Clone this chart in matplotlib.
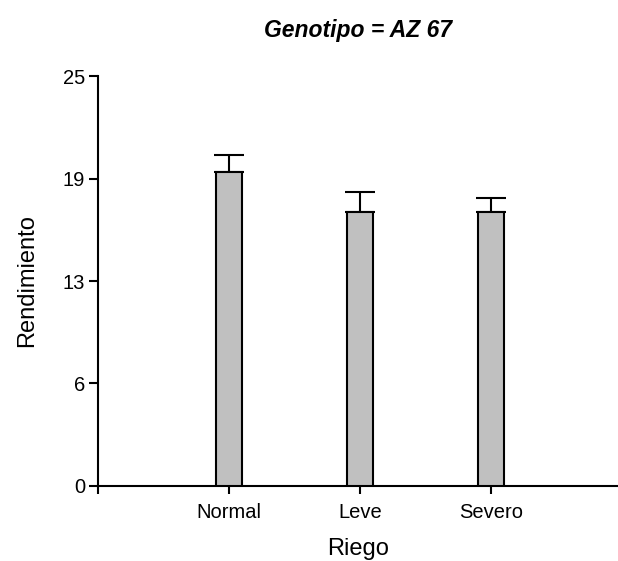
import matplotlib
matplotlib.use("Agg")
import matplotlib.pyplot as plt
from matplotlib.ticker import FixedLocator

plt.rcParams['font.family'] = ['Liberation Sans', 'DejaVu Sans']

riego = ['Normal', 'Leve', 'Severo']
rendimiento = [19.13, 16.7, 16.7]
error_sup = [1.07, 1.2, 0.85]
yticks = [0, 6.25, 12.5, 18.75, 25]
ytick_labels = ['0', '6', '13', '19', '25']

fig = plt.figure(figsize=(6.18, 5.61), dpi=100)
ax = fig.add_axes([0.159, 0.1337, 0.841, 0.7308])

pos = list(range(1, len(riego) + 1))
ax.bar(pos, rendimiento, width=0.196, color='#c0c0c0', edgecolor='black',
       linewidth=1.5, zorder=3)
ax.errorbar(pos, rendimiento, yerr=[[0] * len(riego), error_sup], fmt='none',
            ecolor='black', elinewidth=1.5, capsize=10.5, capthick=1.5, zorder=2)

ax.set_xlim(0, 3.967)
ax.set_ylim(0, 25)
ax.spines['top'].set_visible(False)
ax.spines['right'].set_visible(False)
ax.spines['left'].set_linewidth(1.5)
ax.spines['bottom'].set_linewidth(1.5)

ax.xaxis.set_major_locator(FixedLocator([0] + pos))
ax.set_xticklabels([''] + riego)
ax.yaxis.set_major_locator(FixedLocator(yticks))
ax.set_yticklabels(ytick_labels)
ax.tick_params(axis='y', length=6.5, width=1.5, labelsize=14.5, pad=3)
ax.tick_params(axis='x', length=6, width=1.5, labelsize=14.5, pad=6)

ax.set_xlabel('Riego', fontsize=17, labelpad=12)
ax.set_ylabel('Rendimiento', fontsize=17, labelpad=18)
ax.set_title('Genotipo = AZ 67', fontsize=16.5, fontweight='bold',
             fontstyle='italic', pad=28)

fig.savefig('out.png', dpi=100)
